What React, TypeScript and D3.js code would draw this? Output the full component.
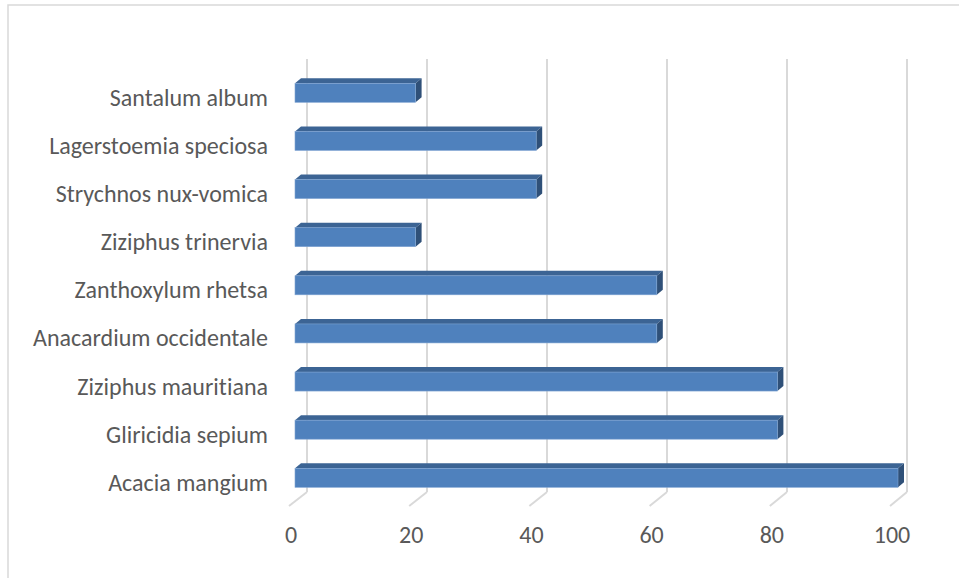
import { useEffect, useRef } from "react";
import * as d3 from "d3";

const species = [
  "Santalum album",
  "Lagerstoemia speciosa",
  "Strychnos nux-vomica",
  "Ziziphus trinervia",
  "Zanthoxylum rhetsa",
  "Anacardium occidentale",
  "Ziziphus mauritiana",
  "Gliricidia sepium",
  "Acacia mangium",
];
const values = [20, 40, 40, 20, 60, 60, 80, 80, 100];
const ticks = [0, 20, 40, 60, 80, 100];

export default function App() {
  const svgRef = useRef<SVGSVGElement | null>(null);

  useEffect(() => {
    if (!svgRef.current) return;
    const svg = d3.select(svgRef.current);
    svg.selectAll("*").remove();

    const font = "Carlito, Calibri, 'Open Sans', sans-serif";
    const textColor = "#595959";
    const gridColor = "#d9d9d9";

    // front face of bars
    const x = d3.scaleLinear().domain([0, 100]).range([295, 898]);
    // back wall (gridlines)
    const xBack = d3.scaleLinear().domain([0, 100]).range([307, 907]);
    // front edge (tick labels)
    const xFront = d3.scaleLinear().domain([0, 100]).range([289, 890]);
    const y = d3.scalePoint<string>().domain(species).range([92.8, 477.8]);

    const barH = 19;
    const dx = 6;
    const dy = -5;
    const floorBack = 492;
    const floorFront = 506;

    // chart frame
    svg.append("rect")
      .attr("x", 8).attr("y", 5)
      .attr("width", 1000).attr("height", 620)
      .attr("fill", "#fff")
      .attr("stroke", gridColor).attr("stroke-width", 1.5);

    // gridlines on the back wall
    ticks.forEach((t) => {
      svg.append("line")
        .attr("x1", xBack(t)).attr("x2", xBack(t))
        .attr("y1", 59).attr("y2", floorBack)
        .attr("stroke", gridColor).attr("stroke-width", 2);
      svg.append("line")
        .attr("x1", xBack(t)).attr("y1", floorBack)
        .attr("x2", xFront(t)).attr("y2", floorFront)
        .attr("stroke", gridColor).attr("stroke-width", 2);
      svg.append("text")
        .attr("x", xFront(t) + 2).attr("y", 543)
        .attr("text-anchor", "middle")
        .style("font-family", font).style("font-size", "24px")
        .style("fill", textColor)
        .text(t);
    });

    // bars
    species.forEach((s, i) => {
      const v = values[i];
      const x0 = x(0);
      const x1 = x(v);
      const top = (y(s) ?? 0) - barH / 2;
      const bottom = top + barH;

      svg.append("polygon")
        .attr("points", [[x0, top], [x0 + dx, top + dy], [x1 + dx, top + dy], [x1, top]].map((p) => p.join(",")).join(" "))
        .attr("fill", "#3c6494");
      svg.append("polygon")
        .attr("points", [[x1, top], [x1 + dx, top + dy], [x1 + dx, bottom + dy], [x1, bottom]].map((p) => p.join(",")).join(" "))
        .attr("fill", "#2f5078");
      svg.append("rect")
        .attr("x", x0).attr("y", top)
        .attr("width", x1 - x0).attr("height", barH)
        .attr("fill", "#4f81bd")
        .attr("stroke", "#7fa4d2").attr("stroke-width", 0.6);

      svg.append("text")
        .attr("x", 268).attr("y", (y(s) ?? 0) + 13)
        .attr("text-anchor", "end")
        .style("font-family", font).style("font-size", "24px")
        .style("font-variant-ligatures", "none")
        .style("fill", textColor)
        .text(s);
    });
  }, []);

  return (
    <svg
      ref={svgRef}
      width={959}
      height={578}
      style={{ position: "absolute", left: 0, top: 0, background: "#fff" }}
    />
  );
}
